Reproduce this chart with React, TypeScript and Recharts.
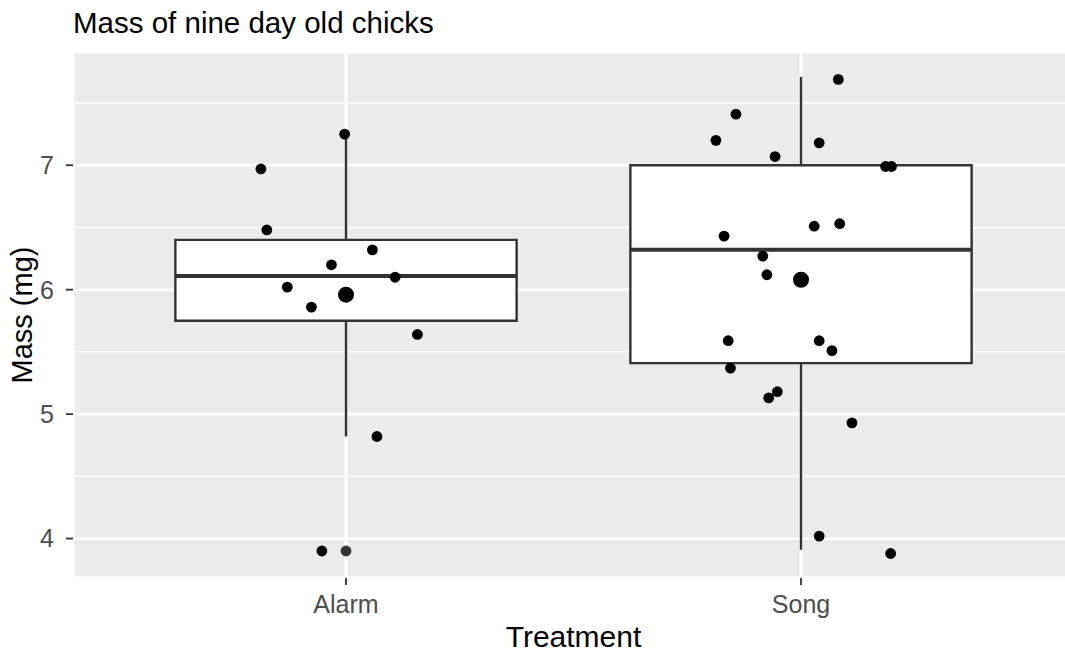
import {
  ComposedChart,
  Scatter,
  XAxis,
  YAxis,
  CartesianGrid,
  ReferenceArea,
  ReferenceLine,
  Label,
} from 'recharts'

const treatments = ['Alarm', 'Song']

// box summaries, one entry per treatment
const lowerWhisker = [4.82, 3.91]
const lowerHinge = [5.75, 5.41]
const medians = [6.11, 6.32]
const upperHinge = [6.4, 7.0]
const upperWhisker = [7.25, 7.71]
const means = [5.96, 6.08]
const alarmOutliers = [3.9]

// individual chicks: mass and horizontal jitter around the group centre
const alarmMass = [7.25, 6.97, 6.48, 6.32, 6.2, 6.1, 6.02, 5.86, 5.64, 4.82, 3.9]
const alarmJitter = [-0.003, -0.187, -0.174, 0.058, -0.032, 0.108, -0.129, -0.076, 0.157, 0.068, -0.053]
const songMass = [
  7.69, 7.41, 7.2, 7.18, 7.07, 6.99, 6.99, 6.53, 6.51, 6.43, 6.27, 6.12, 5.59, 5.59, 5.51, 5.37, 5.18,
  5.13, 4.93, 4.02, 3.88,
]
const songJitter = [
  0.082, -0.143, -0.187, 0.04, -0.057, 0.186, 0.199, 0.085, 0.029, -0.169, -0.084, -0.075, -0.16, 0.04,
  0.068, -0.155, -0.052, -0.071, 0.112, 0.04, 0.197,
]

const BOX_HALF = 0.375
const FONT = '"Liberation Sans", Arial, sans-serif'

const jittered = [
  ...alarmMass.map((y, i) => ({ x: 1 + alarmJitter[i], y })),
  ...songMass.map((y, i) => ({ x: 2 + songJitter[i], y })),
]
const outlierPoints = alarmOutliers.map((y) => ({ x: 1, y }))
const meanPoints = means.map((y, i) => ({ x: i + 1, y }))

const dot = (r: number, fill: string) => (props: any) => (
  <circle cx={props.cx} cy={props.cy} r={r} fill={fill} />
)

export default function App() {
  return (
    <div
      style={{
        position: 'absolute',
        left: 0,
        top: 0,
        width: 1065,
        height: 654,
        overflow: 'hidden',
        background: '#fff',
        fontFamily: FONT,
      }}
    >
      <div
        style={{
          position: 'absolute',
          left: 73,
          top: 8,
          fontSize: 29.5,
          lineHeight: 1,
          color: '#000',
          whiteSpace: 'nowrap',
        }}
      >
        Mass of nine day old chicks
      </div>
      <ComposedChart
        width={1080}
        height={654}
        margin={{ top: 52, right: 6, bottom: 0, left: 0 }}
        style={{ fontFamily: FONT }}
      >
        <CartesianGrid fill="#EBEBEB" fillOpacity={1} stroke="#FFFFFF" strokeWidth={2.8} />
        <CartesianGrid
          horizontalValues={[4.5, 5.5, 6.5, 7.5]}
          vertical={false}
          stroke="#FFFFFF"
          strokeWidth={1.4}
        />
        <XAxis
          type="number"
          dataKey="x"
          domain={[0.4, 2.6]}
          ticks={[1, 2]}
          allowDataOverflow
          tickFormatter={(v: number) => treatments[v - 1]}
          axisLine={false}
          tickLine={{ stroke: '#333333', strokeWidth: 1.8 }}
          tickSize={7}
          tickMargin={10}
          tick={{ fill: '#4D4D4D', fontSize: 25 }}
          height={76}
        >
          <Label value="Treatment" position="insideBottom" offset={7} fill="#000" fontSize={30} />
        </XAxis>
        <YAxis
          type="number"
          dataKey="y"
          domain={[3.683, 7.91]}
          ticks={[4, 5, 6, 7]}
          allowDataOverflow
          axisLine={false}
          tickLine={{ stroke: '#333333', strokeWidth: 1.8 }}
          tickSize={7}
          tickMargin={12}
          tick={{ fill: '#4D4D4D', fontSize: 25 }}
          width={73}
        >
          <Label value="Mass (mg)" angle={-90} position="center" dx={-15} fill="#000" fontSize={29} />
        </YAxis>

        {treatments.map((t, i) => (
          <ReferenceArea
            key={`box-${t}`}
            x1={i + 1 - BOX_HALF}
            x2={i + 1 + BOX_HALF}
            y1={lowerHinge[i]}
            y2={upperHinge[i]}
            fill="#FFFFFF"
            fillOpacity={1}
            stroke="#333333"
            strokeWidth={2.4}
          />
        ))}
        {treatments.map((t, i) => (
          <ReferenceLine
            key={`upper-${t}`}
            segment={[
              { x: i + 1, y: upperHinge[i] },
              { x: i + 1, y: upperWhisker[i] },
            ]}
            stroke="#333333"
            strokeWidth={2.4}
          />
        ))}
        {treatments.map((t, i) => (
          <ReferenceLine
            key={`lower-${t}`}
            segment={[
              { x: i + 1, y: lowerWhisker[i] },
              { x: i + 1, y: lowerHinge[i] },
            ]}
            stroke="#333333"
            strokeWidth={2.4}
          />
        ))}
        {treatments.map((t, i) => (
          <ReferenceLine
            key={`median-${t}`}
            segment={[
              { x: i + 1 - BOX_HALF, y: medians[i] },
              { x: i + 1 + BOX_HALF, y: medians[i] },
            ]}
            stroke="#333333"
            strokeWidth={4}
          />
        ))}

        <Scatter data={outlierPoints} shape={dot(5.4, '#333333')} isAnimationActive={false} />
        <Scatter data={jittered} shape={dot(5.4, '#000000')} isAnimationActive={false} />
        <Scatter data={meanPoints} shape={dot(8, '#000000')} isAnimationActive={false} />
      </ComposedChart>
    </div>
  )
}
